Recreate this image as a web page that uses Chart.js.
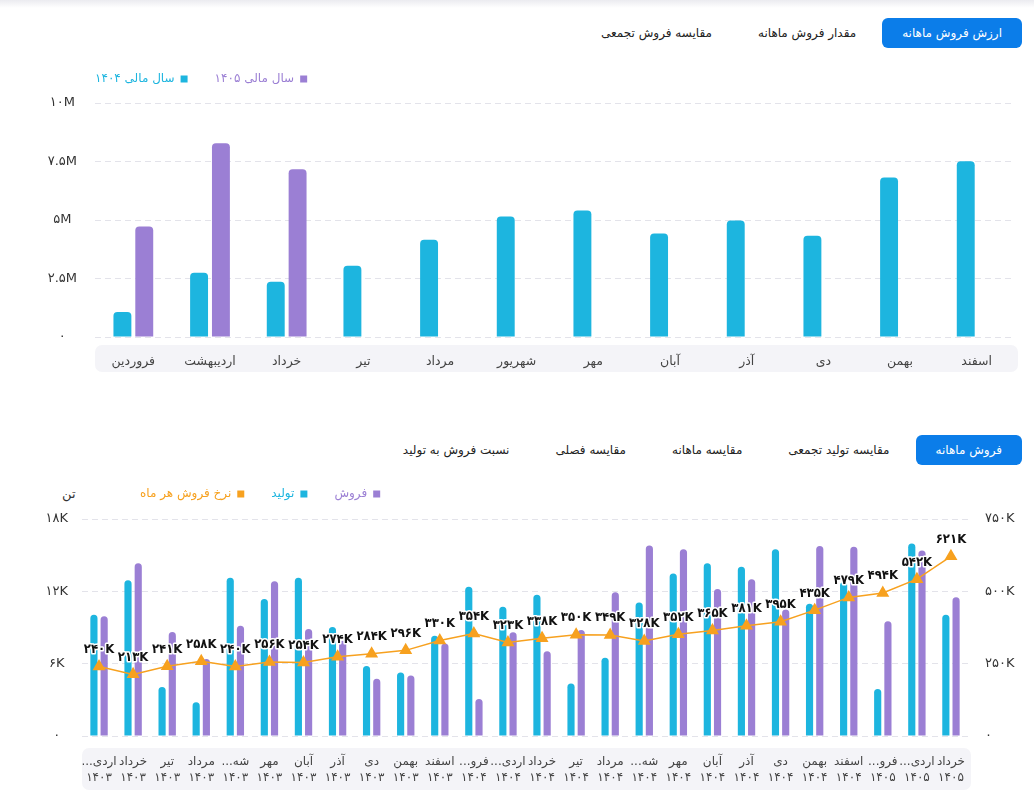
<!DOCTYPE html>
<html lang="fa">
<head>
<meta charset="utf-8">
<title>فروش ماهانه</title>
<script src="https://cdn.jsdelivr.net/npm/chart.js@4.4.1/dist/chart.umd.min.js"></script>
<style>
  body { margin: 0; background: #fff; font-family: 'DejaVu Sans', sans-serif; width: 1034px; height: 806px; overflow: hidden; position: relative; }
  .fade { position: absolute; left: 0; top: 0; width: 100%; height: 8px; background: linear-gradient(#ebebf0, #fff); }
  .tabs { position: absolute; right: 12px; display: flex; direction: rtl; gap: 6px; z-index: 2; }
  .tab { height: 30px; line-height: 30px; padding: 0 20px; font-size: 12px; color: #222; border-radius: 6px; white-space: nowrap; }
  .tab.active { background: #0b7de9; color: #fff; }
  .wrap { position: absolute; left: 0; width: 1034px; }
  .unit { position: absolute; left: 62px; top: 486px; font-size: 13px; color: #333; }
</style>
</head>
<body>
<div class="fade"></div>

<div class="tabs" style="top:18px">
  <div class="tab active">ارزش فروش ماهانه</div>
  <div class="tab">مقدار فروش ماهانه</div>
  <div class="tab">مقایسه فروش تجمعی</div>
</div>
<div class="wrap" style="top:54px;height:323px"><canvas id="valueChart" dir="rtl"></canvas></div>

<div class="tabs" style="top:435px">
  <div class="tab active">فروش ماهانه</div>
  <div class="tab">مقایسه تولید تجمعی</div>
  <div class="tab">مقایسه ماهانه</div>
  <div class="tab">مقایسه فصلی</div>
  <div class="tab">نسبت فروش به تولید</div>
</div>
<div class="unit">تن</div>
<div class="wrap" style="top:470px;height:326px"><canvas id="salesChart" dir="rtl"></canvas></div>

<script>
// top chart: monthly sales value, in millions
const months = ['فروردین', 'اردیبهشت', 'خرداد', 'تیر', 'مرداد', 'شهریور', 'مهر', 'آبان', 'آذر', 'دی', 'بهمن', 'اسفند'];
const value1404 = [1.07, 2.75, 2.36, 3.05, 4.16, 5.15, 5.41, 4.42, 4.98, 4.33, 6.82, 7.51];
const value1405 = [4.72, 8.28, 7.17, null, null, null, null, null, null, null, null, null];
const valueTicks = ['۰', '۲.۵M', '۵M', '۷.۵M', '۱۰M'];

// bottom chart: production / sales in thousand tons, sale rate in K
const periodMonths = ['اردی...', 'خرداد', 'تیر', 'مرداد', 'شه...', 'مهر', 'آبان', 'آذر', 'دی', 'بهمن', 'اسفند',
  'فرو...', 'اردی...', 'خرداد', 'تیر', 'مرداد', 'شه...', 'مهر', 'آبان', 'آذر', 'دی', 'بهمن', 'اسفند',
  'فرو...', 'اردی...', 'خرداد'];
const periodYears = ['۱۴۰۳', '۱۴۰۳', '۱۴۰۳', '۱۴۰۳', '۱۴۰۳', '۱۴۰۳', '۱۴۰۳', '۱۴۰۳', '۱۴۰۳', '۱۴۰۳', '۱۴۰۳',
  '۱۴۰۴', '۱۴۰۴', '۱۴۰۴', '۱۴۰۴', '۱۴۰۴', '۱۴۰۴', '۱۴۰۴', '۱۴۰۴', '۱۴۰۴', '۱۴۰۴', '۱۴۰۴', '۱۴۰۴',
  '۱۴۰۵', '۱۴۰۵', '۱۴۰۵'];
const production = [10.05, 12.92, 4.07, 2.79, 13.12, 11.36, 13.12, 9.04, 5.8, 5.27, 8.32, 12.39, 10.72,
  11.72, 4.35, 6.5, 11.08, 13.48, 14.32, 14.04, 15.49, 10.97, 12.78, 3.9, 15.96, 10.05];
const sales = [9.94, 14.32, 8.62, 6.39, 9.15, 12.84, 8.88, 7.9, 4.74, 5.02, 7.68, 3.07, 8.6,
  7.03, 8.79, 11.92, 15.8, 15.49, 12.2, 13.0, 10.5, 15.77, 15.69, 9.52, 15.38, 11.5];
const saleRate = [240, 213, 241, 258, 240, 256, 254, 274, 284, 296, 330, 354, 323,
  338, 350, 349, 328, 352, 365, 381, 395, 435, 479, 494, 542, 621];
const tonTicks = ['۰', '۶K', '۱۲K', '۱۸K'];
const rateTicks = ['۰', '۲۵۰K', '۵۰۰K', '۷۵۰K'];

const CYAN = '#1db5df';
const PURPLE = '#9b7fd4';
const ORANGE = '#f7a11f';
const GRID = '#e3e3ea';

Chart.defaults.font.family = "'DejaVu Sans', sans-serif";
Chart.defaults.color = '#444';

const toFa = v => String(v).replace(/\d/g, d => '۰۱۲۳۴۵۶۷۸۹'[d]);

// grey rounded band behind the category labels
const axisBand = (from, to) => ({
  id: 'axisBand',
  beforeDraw(chart) {
    const { ctx, chartArea, scales } = chart;
    ctx.save();
    ctx.fillStyle = '#f4f4f8';
    ctx.beginPath();
    ctx.roundRect(chartArea.left, scales.x.top + from, chartArea.right - chartArea.left + 3, to - from, 7);
    ctx.fill();
    ctx.restore();
  }
});

// move the legend sideways / up
const legendShift = (dx, dy) => ({
  id: 'legendShift',
  afterLayout(chart) {
    const lg = chart.legend;
    lg.left += dx;
    lg.right += dx;
    lg.top -= dy;
    lg.bottom -= dy;
  }
});

const coloredLabels = chart => {
  const items = Chart.defaults.plugins.legend.labels.generateLabels(chart);
  items.forEach(it => { it.fontColor = it.fillStyle; it.strokeStyle = it.fillStyle; it.lineWidth = 0; });
  return items;
};

new Chart(document.getElementById('valueChart'), {
  type: 'bar',
  data: {
    labels: months,
    datasets: [
      { label: 'سال مالی ۱۴۰۴', data: value1404, backgroundColor: CYAN },
      { label: 'سال مالی ۱۴۰۵', data: value1405, backgroundColor: PURPLE }
    ]
  },
  options: {
    responsive: true,
    maintainAspectRatio: false,
    animation: false,
    layout: { padding: { right: 19 } },
    datasets: { bar: { categoryPercentage: 0.57, barPercentage: 0.82, borderRadius: 4, borderSkipped: 'bottom' } },
    plugins: {
      tooltip: { enabled: false },
      legend: {
        fullSize: false,
        align: 'end',
        rtl: true,
        textDirection: 'rtl',
        reverse: true,
        labels: { boxWidth: 7, boxHeight: 7, padding: 27, font: { size: 12 }, generateLabels: coloredLabels }
      }
    },
    scales: {
      x: {
        grid: { display: false, drawTicks: false },
        border: { display: false },
        ticks: { padding: 17, color: '#444', font: { size: 12.5 } },
        afterFit: s => { s.height = 40; }
      },
      y: {
        min: 0,
        max: 10,
        grid: { color: GRID, drawTicks: false },
        border: { display: false, dash: [6, 4] },
        ticks: { stepSize: 2.5, padding: 18, crossAlign: 'center', color: '#333', font: { size: 13 },
          callback: (v, i) => valueTicks[i] },
        afterFit: s => { s.width = 95; }
      }
    }
  },
  plugins: [axisBand(8, 35), legendShift(-27, 8)]
});

// rate labels above the triangles
const rateLabels = {
  id: 'rateLabels',
  afterDatasetsDraw(chart) {
    const { ctx } = chart;
    const meta = chart.getDatasetMeta(2);
    ctx.save();
    ctx.font = "bold 13px 'DejaVu Sans Condensed', 'DejaVu Sans', sans-serif";
    ctx.textAlign = 'center';
    ctx.textBaseline = 'middle';
    ctx.lineWidth = 3;
    ctx.lineJoin = 'round';
    ctx.strokeStyle = '#fff';
    ctx.fillStyle = '#111';
    meta.data.forEach((pt, i) => {
      const t = toFa(saleRate[i]) + 'K';
      ctx.strokeText(t, pt.x, pt.y - 17);
      ctx.fillText(t, pt.x, pt.y - 17);
    });
    ctx.restore();
  }
};

const legendRank = [1, 0, 2];

new Chart(document.getElementById('salesChart'), {
  type: 'bar',
  data: {
    labels: periodMonths.map((m, i) => [m, periodYears[i]]),
    datasets: [
      { type: 'bar', label: 'تولید', data: production, backgroundColor: CYAN, yAxisID: 'y', order: 1 },
      { type: 'bar', label: 'فروش', data: sales, backgroundColor: PURPLE, yAxisID: 'y', order: 1 },
      { type: 'line', label: 'نرخ فروش هر ماه', data: saleRate, yAxisID: 'y1', order: 0,
        borderColor: ORANGE, backgroundColor: ORANGE, borderWidth: 1.5,
        pointStyle: 'triangle', pointRadius: 6, pointBackgroundColor: ORANGE, pointBorderColor: ORANGE }
    ]
  },
  options: {
    responsive: true,
    maintainAspectRatio: false,
    animation: false,
    datasets: { bar: { categoryPercentage: 0.6, barPercentage: 0.7, borderRadius: 4, borderSkipped: 'bottom' } },
    plugins: {
      tooltip: { enabled: false },
      legend: {
        fullSize: false,
        align: 'end',
        rtl: true,
        textDirection: 'rtl',
        labels: {
          boxWidth: 7, boxHeight: 7, padding: 27, font: { size: 12 },
          generateLabels: coloredLabels,
          sort: (a, b) => legendRank[a.datasetIndex] - legendRank[b.datasetIndex]
        }
      }
    },
    scales: {
      x: {
        grid: { display: false, drawTicks: false },
        border: { display: false },
        ticks: { padding: 18, autoSkip: false, maxRotation: 0, color: '#444', font: { size: 12, lineHeight: 1.3 } },
        afterFit: s => { s.height = 60; }
      },
      y: {
        position: 'left',
        min: 0,
        max: 18,
        grid: { color: GRID, drawTicks: false },
        border: { display: false, dash: [6, 4] },
        ticks: { stepSize: 6, padding: 14, crossAlign: 'center', color: '#333', font: { size: 13 },
          callback: (v, i) => tonTicks[i] },
        afterFit: s => { s.width = 82; }
      },
      y1: {
        position: 'right',
        min: 0,
        max: 750,
        grid: { drawOnChartArea: false, drawTicks: false },
        border: { display: false },
        ticks: { stepSize: 250, padding: 17, crossAlign: 'near', color: '#333', font: { size: 13 },
          callback: (v, i) => rateTicks[i] },
        afterFit: s => { s.width = 66; }
      }
    }
  },
  plugins: [axisBand(12, 54), legendShift(31, 9), rateLabels]
});
</script>
</body>
</html>
